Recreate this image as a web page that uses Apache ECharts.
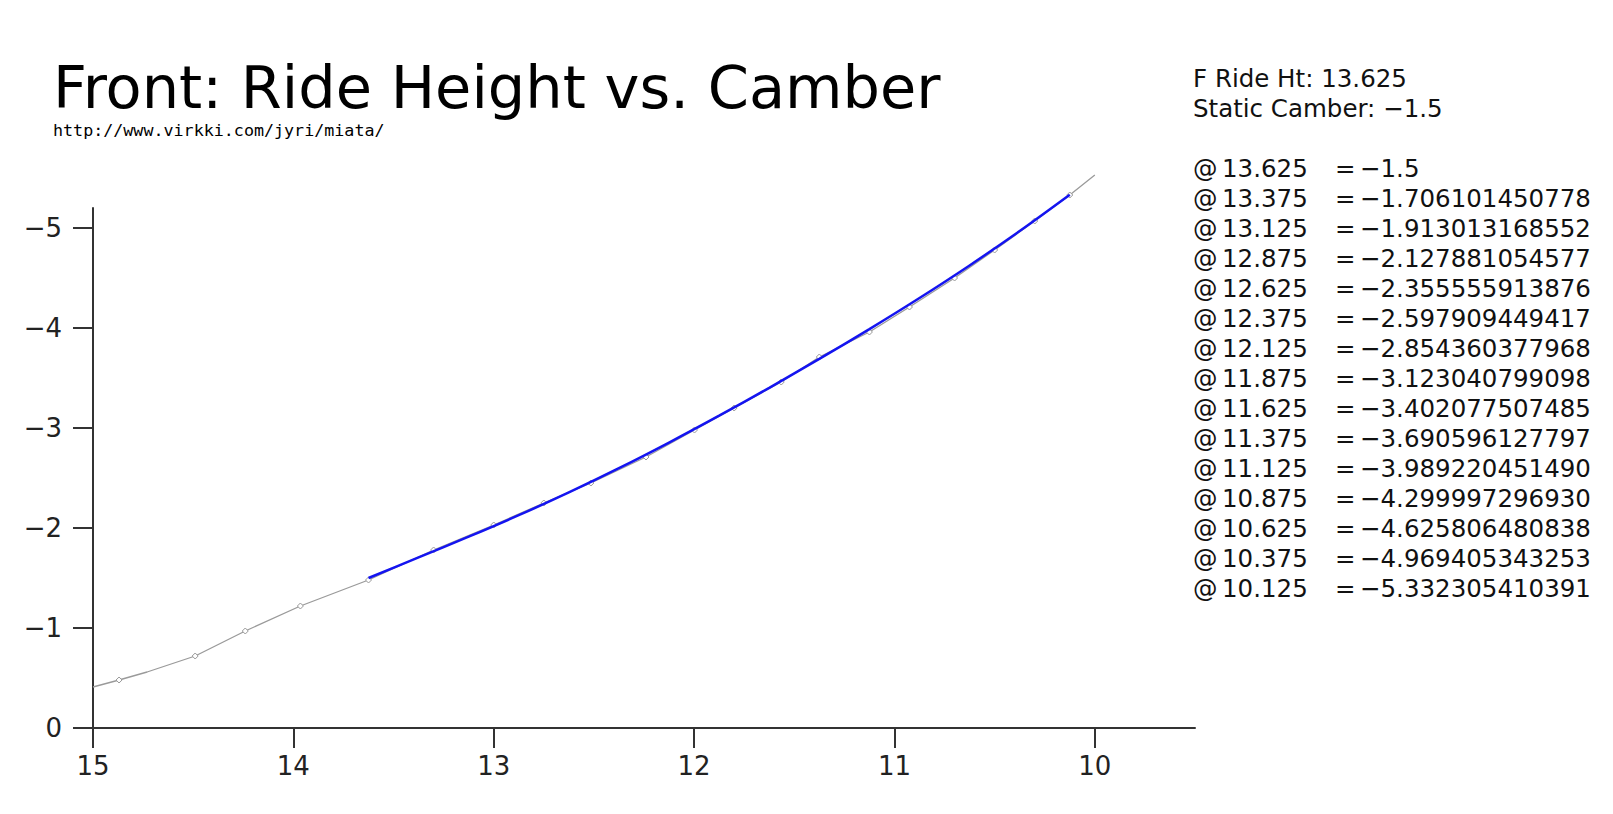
<!DOCTYPE html>
<html>
<head>
<meta charset="utf-8">
<script src="https://cdn.jsdelivr.net/npm/echarts@6/dist/echarts.min.js"></script>
<style>
  html, body { margin: 0; padding: 0; background: #ffffff; }
  #chart { width: 1613px; height: 814px; }
</style>
</head>
<body>
<div id="chart"></div>
<script>
// ---- data ----
var titleText = 'Front: Ride Height vs. Camber';
var subText = 'http://www.virkki.com/jyri/miata/';
var infoLines = ['F Ride Ht: 13.625', 'Static Camber: \u22121.5'];

// table of computed camber per ride height (blue curve)
var tableHeights = [13.625, 13.375, 13.125, 12.875, 12.625, 12.375, 12.125, 11.875, 11.625, 11.375, 11.125, 10.875, 10.625, 10.375, 10.125];
var tableCambers = ['-1.5', '-1.706101450778', '-1.913013168552', '-2.127881054577', '-2.355555913876', '-2.597909449417', '-2.854360377968', '-3.123040799098', '-3.402077507485', '-3.690596127797', '-3.989220451490', '-4.299997296930', '-4.625806480838', '-4.969405343253', '-5.332305410391'];

var grayX = [15, 14.87, 14.73, 14.49, 14.24, 13.965, 13.625, 13.3, 13.0, 12.75, 12.515, 12.24, 11.998, 11.8, 11.565, 11.375, 11.125, 10.925, 10.7, 10.5, 10.3, 10.125, 10.0];
var grayY = [-0.41, -0.48, -0.56, -0.72, -0.97, -1.22, -1.48, -1.78, -2.03, -2.25, -2.45, -2.71, -2.98, -3.2, -3.46, -3.71, -3.96, -4.21, -4.5, -4.78, -5.07, -5.33, -5.53];
var grayMarked = [false, true, false, true, true, true, true, true, true, true, true, true, true, true, true, true, true, true, true, true, true, true, false];

var xTicks = [15, 14, 13, 12, 11, 10];
var yTicks = [0, -1, -2, -3, -4, -5];

// ---- build ----
var MINUS = '\u2212';
function fmtMinus(s) { return String(s).replace(/-/g, MINUS); }

var blueData = tableHeights.map(function (h, i) { return [h, parseFloat(tableCambers[i])]; });
var grayData = grayX.map(function (x, i) {
  return { value: [x, grayY[i]], symbol: grayMarked[i] ? 'diamond' : 'none' };
});

var chart = echarts.init(document.getElementById('chart'), null, { renderer: 'svg' });

var FONT = 'DejaVu Sans';
var lh = 30;
var rowTop = 168;
var rows = tableHeights.length;

var graphics = [
  { type: 'text', left: 53, top: 58, style: { text: titleText, font: '59px "' + FONT + '"', fill: '#000' } },
  { type: 'text', left: 53, top: 121, style: { text: subText, font: '16.7px "DejaVu Sans Mono"', fill: '#000' } },
  { type: 'text', x: 1193, y: 78 - lh / 2, style: { text: infoLines.join('\n'), font: '24.5px "' + FONT + '"', lineHeight: lh, fill: '#111', verticalAlign: 'top' } }
];
// table columns
var colAt = [], colH = [], colEq = [], colV = [];
for (var i = 0; i < rows; i++) {
  colAt.push('@');
  colH.push(String(tableHeights[i]));
  colEq.push('=');
  colV.push(fmtMinus(tableCambers[i]));
}
[[1193, colAt], [1222, colH], [1335, colEq], [1360, colV]].forEach(function (c) {
  graphics.push({
    type: 'text', x: c[0], y: rowTop - lh / 2,
    style: { text: c[1].join('\n'), font: '24.5px "' + FONT + '"', lineHeight: lh, fill: '#111', verticalAlign: 'top' }
  });
});

chart.setOption({
  animation: false,
  backgroundColor: '#ffffff',
  grid: { left: 93, right: 418, top: 208, bottom: 86 },
  xAxis: {
    type: 'value', min: 9.5, max: 15, inverse: true,
    axisLine: { show: true, onZero: false, lineStyle: { color: '#333', width: 2 } },
    axisTick: { show: true, inside: false, length: 20, customValues: xTicks, lineStyle: { color: '#333', width: 2 } },
    axisLabel: { customValues: xTicks, margin: 25, color: '#222', fontFamily: FONT, fontSize: 26 },
    splitLine: { show: false }
  },
  yAxis: {
    type: 'value', min: -5.2, max: 0, inverse: true,
    axisLine: { show: true, onZero: false, lineStyle: { color: '#333', width: 2 } },
    axisTick: { show: true, inside: false, length: 20, customValues: yTicks, lineStyle: { color: '#333', width: 2 } },
    axisLabel: { customValues: yTicks, margin: 31, color: '#222', fontFamily: FONT, fontSize: 26, formatter: function (v) { return fmtMinus(v); } },
    splitLine: { show: false }
  },
  graphic: graphics,
  series: [
    {
      type: 'line', data: grayData, z: 2, clip: false,
      lineStyle: { color: '#9a9a9a', width: 1.3 },
      symbolSize: 6,
      itemStyle: { color: '#ffffff', borderColor: '#999', borderWidth: 1 },
      showAllSymbol: true
    },
    {
      type: 'line', data: blueData, z: 3, smooth: 0.3, clip: false,
      showSymbol: false,
      lineStyle: { color: '#1414f0', width: 2.5 }
    }
  ]
});
</script>
</body>
</html>
